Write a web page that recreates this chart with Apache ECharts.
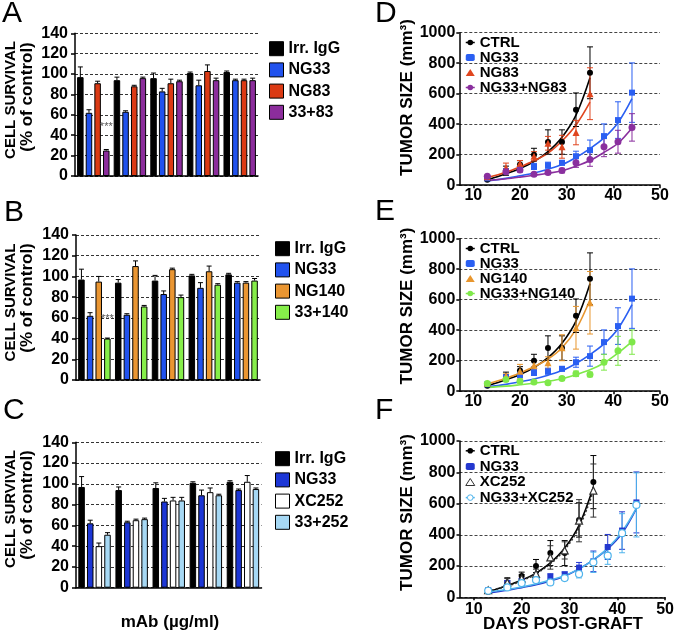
<!DOCTYPE html>
<html><head><meta charset="utf-8">
<script src="https://cdn.jsdelivr.net/npm/echarts@6/dist/echarts.min.js"></script>
<style>html,body{margin:0;padding:0;background:#fff}#c{width:677px;height:638px}</style>
</head><body><div id="c"></div>
<script>
// ---------- Panels A-C : cell survival (% of control) ----------
const doseGroups = ['dose 1', 'dose 2', 'dose 3', 'dose 4', 'dose 5'];
const survivalMin = 0, survivalMax = 140, survivalStep = 20;

const barIgG = [97, 94, 96, 101, 102];
const barIgGErr = [10, 3, 5, 1, 1];
const barNG33 = [62, 63, 83, 89, 94];
const barNG33Err = [3, 1, 3, 5, 1];
const barNG83 = [91, 88, 91, 103, 94];
const barNG83Err = [2, 1, 4, 6, 1];
const bar33plus83 = [25, 96, 93, 94, 94];
const bar33plus83Err = [1, 1, 1, 2, 2];
const barNG140 = [95, 110, 107, 105, 94];
const barNG140Err = [5, 5, 1, 5, 1];
const bar33plus140 = [40, 71, 80, 92, 96];
const bar33plus140Err = [0.5, 1, 2, 1, 2];
const barXC252 = [40, 65, 84, 92, 102];
const barXC252Err = [3, 1, 3, 4, 6];
const bar33plus252 = [51, 66, 84, 89, 95];
const bar33plus252Err = [2, 1, 3, 1, 1];
const starA = 48, starB = 59;

// ---------- Panels D-F : tumor size (mm3) ----------
const days = [13, 17, 20, 23, 26, 29, 32, 35, 38, 41, 44];
const dayTicks = [10, 20, 30, 40, 50];
const tumorMin = 0, tumorMax = 1000, tumorStep = 200;

const ctrl = [35, 95, 136, 200, 283, 283, 495, 737];
const ctrlErr = [5, 30, 25, 42, 80, 80, 110, 170];
const ng33 = [45, 92, 105, 123, 131, 147, 190, 230, 322, 427, 607];
const ng33Err = [8, 15, 15, 20, 20, 15, 33, 66, 80, 120, 195];
const ng83 = [55, 115, 142, 190, 275, 252, 345, 600];
const ng83Err = [8, 30, 20, 30, 45, 75, 80, 170];
const ng33ng83 = [59, 88, 99, 72, 83, 96, 147, 169, 252, 285, 379];
const ng33ng83Err = [5, 12, 12, 8, 10, 15, 30, 45, 65, 75, 90];
const ng140 = [52, 99, 131, 170, 186, 285, 416, 580];
const ng140Err = [5, 15, 45, 25, 40, 85, 140, 205];
const ng33ng140 = [50, 77, 66, 61, 55, 83, 114, 110, 190, 265, 322];
const ng33ng140Err = [5, 10, 10, 8, 8, 12, 18, 15, 52, 95, 80];
const xc252 = [45, 95, 120, 150, 255, 300, 490, 683];
const xc252Err = [5, 25, 25, 30, 75, 55, 135, 170];
const ng33xc252 = [42, 63, 91, 110, 95, 123, 149, 224, 266, 410, 591];
const ng33xc252Err = [5, 8, 10, 12, 10, 12, 25, 65, 55, 125, 205];

// fitted growth curves at the same days
const ctrlFit = [35, 75, 110, 155, 220, 315, 460, 705];
const ng33Fit = [28, 45, 62, 80, 105, 135, 182, 240, 310, 410, 568];
const ng83Fit = [50, 85, 120, 160, 210, 290, 395, 545];
const ng33ng83Fit = [30, 42, 53, 65, 78, 95, 125, 162, 215, 275, 375];
const ng140Fit = [48, 85, 120, 160, 210, 285, 405, 600];
const ng33ng140Fit = [25, 33, 42, 52, 65, 82, 108, 140, 185, 250, 325];
const xc252Fit = [40, 72, 105, 150, 215, 305, 445, 680];
const ng33xc252Fit = [35, 50, 66, 85, 110, 140, 182, 240, 315, 420, 570];

// ---------- build ----------
const FONT = '"Liberation Sans", Arial, Helvetica, sans-serif';
const BAR_W = 6.5, BAR_GAP = 0.33, BAR_STEP = BAR_W * (1 + BAR_GAP);
const grids = [], xAxes = [], yAxes = [], series = [], legends = [], graphics = [];
const pair = (xs, ys) => ys.map((v, i) => [xs[i], v]);
const triple = (xs, ys, es) => ys.map((v, i) => [xs[i], v, es[i]]);
const plain = v => String(v);

function barPanel(box, defs, legendBox, star) {
  const gi = grids.length;
  grids.push({left: box.left, top: box.top, width: box.width, height: box.height, containLabel: false});
  xAxes.push({type: 'category', gridIndex: gi, data: doseGroups,
    axisLine: {lineStyle: {color: '#000', width: 1.5}},
    axisTick: {alignWithLabel: true, length: 4, lineStyle: {color: '#000', width: 1.5}},
    axisLabel: {show: false}, splitLine: {show: false}});
  yAxes.push({type: 'value', gridIndex: gi, min: survivalMin, max: survivalMax, interval: survivalStep,
    axisLine: {show: true, lineStyle: {color: '#000', width: 1.5}},
    axisTick: {show: true, length: 4, lineStyle: {color: '#000', width: 1.5}},
    axisLabel: {formatter: plain, fontFamily: FONT, fontSize: 16, fontWeight: 'bold', color: '#000', margin: 7},
    splitLine: {show: true, lineStyle: {color: '#333', width: 1, type: [3, 2]}}});
  defs.forEach((d, k) => {
    series.push({type: 'bar', name: d.name, xAxisIndex: gi, yAxisIndex: gi, data: d.vals,
      barWidth: BAR_W, barGap: Math.round(BAR_GAP * 100) + '%',
      itemStyle: {color: d.color, borderColor: '#000', borderWidth: 1}, z: 2});
    series.push({type: 'custom', xAxisIndex: gi, yAxisIndex: gi, z: 3,
      data: d.vals.map((v, i) => [i, v, d.err[i]]),
      renderItem: (params, api) => {
        const i = api.value(0), v = api.value(1), e = api.value(2);
        const b = api.coord([i, v]), t = api.coord([i, v + e]);
        const x = b[0] + (k - 1.5) * BAR_STEP;
        const st = {stroke: '#000', lineWidth: 1};
        return {type: 'group', children: [
          {type: 'line', shape: {x1: x, y1: b[1], x2: x, y2: t[1]}, style: st},
          {type: 'line', shape: {x1: x - 2.5, y1: t[1], x2: x + 2.5, y2: t[1]}, style: st}]};
      }});
  });
  if (star != null) {
    series.push({type: 'custom', xAxisIndex: gi, yAxisIndex: gi, z: 4, data: [[0, star]],
      renderItem: (params, api) => {
        const p = api.coord([api.value(0), api.value(1)]);
        return {type: 'text', x: p[0] + 1.5 * BAR_STEP, y: p[1],
          style: {text: '***', font: '11px ' + FONT, fill: '#555', align: 'center', verticalAlign: 'middle',
                  textAlign: 'center', textVerticalAlign: 'middle'}};
      }});
  }
  legends.push({orient: 'vertical', left: legendBox.left, top: legendBox.top, padding: 0,
    itemWidth: 14, itemHeight: 14, itemGap: 5.2, icon: 'rect', selectedMode: false,
    data: defs.map(d => ({name: d.name, itemStyle: {color: d.color, borderColor: '#000', borderWidth: 1}})),
    textStyle: {fontFamily: FONT, fontSize: 16, fontWeight: 'bold', color: '#000', lineHeight: 14}});
}

function linePanel(box, defs, legendBox) {
  const gi = grids.length;
  grids.push({left: box.left, top: box.top, width: box.width, height: box.height, containLabel: false});
  xAxes.push({type: 'value', gridIndex: gi, min: 7, max: 50,
    axisLine: {lineStyle: {color: '#000', width: 1.5}},
    axisTick: {show: true, length: 3, customValues: dayTicks, lineStyle: {color: '#000', width: 1.5}},
    axisLabel: {customValues: dayTicks, formatter: plain, fontFamily: FONT, fontSize: 16, fontWeight: 'bold', color: '#000', margin: box.lm},
    splitLine: {show: false}});
  yAxes.push({type: 'value', gridIndex: gi, min: tumorMin, max: tumorMax, interval: tumorStep,
    axisLine: {show: true, lineStyle: {color: '#000', width: 1.5}},
    axisTick: {show: true, length: 3, lineStyle: {color: '#000', width: 1.5}},
    axisLabel: {formatter: plain, fontFamily: FONT, fontSize: 16, fontWeight: 'bold', color: '#000', margin: 4},
    splitLine: {show: true, lineStyle: {color: '#444', width: 1, type: [3, 2]}}});
  defs.forEach(d => {
    series.push({type: 'line', xAxisIndex: gi, yAxisIndex: gi, data: pair(days, d.fit),
      smooth: 0.35, showSymbol: false, symbol: 'none', z: 3,
      lineStyle: {color: d.color, width: 1.6, type: d.dotted ? [2, 2] : 'solid'}});
    series.push({type: 'custom', xAxisIndex: gi, yAxisIndex: gi, z: 4,
      data: triple(days, d.vals, d.err),
      renderItem: (params, api) => {
        const x = api.value(0), v = api.value(1), e = api.value(2);
        const t = api.coord([x, v + e]), b = api.coord([x, Math.max(v - e, 0)]);
        const st = {stroke: d.color, lineWidth: 1};
        return {type: 'group', children: [
          {type: 'line', shape: {x1: t[0], y1: t[1], x2: b[0], y2: b[1]}, style: st},
          {type: 'line', shape: {x1: t[0] - 3, y1: t[1], x2: t[0] + 3, y2: t[1]}, style: st},
          {type: 'line', shape: {x1: b[0] - 3, y1: b[1], x2: b[0] + 3, y2: b[1]}, style: st}]};
      }});
    series.push({type: 'line', name: d.name, xAxisIndex: gi, yAxisIndex: gi, data: pair(days, d.vals),
      symbol: d.symbol, symbolSize: d.size, showSymbol: true, z: 5,
      lineStyle: {width: 0, color: d.color},
      itemStyle: d.open ? {color: '#fff', borderColor: d.color, borderWidth: 1.2} : {color: d.color, borderColor: d.color, borderWidth: 0}});
  });
  legends.push({orient: 'vertical', left: legendBox.left, top: legendBox.top, padding: 0,
    itemWidth: 9, itemHeight: 7, itemGap: legendBox.gap, selectedMode: false,
    lineStyle: {width: 1.5},
    data: defs.map(d => {
      const item = {name: d.name,
        itemStyle: d.open ? {color: '#fff', borderColor: d.color, borderWidth: 1} : {color: d.color, borderWidth: 0},
        lineStyle: {color: d.color, width: 1.5}};
      if (d.symbol === 'triangle') item.icon = 'triangle';
      return item;
    }),
    textStyle: {fontFamily: FONT, fontSize: 15, fontWeight: 'bold', color: '#000', lineHeight: 14}});
}

const C_IGG = '#000000', C_NG33 = '#2152ee', C_NG33C = '#1c36d6', C_NG83 = '#db3a14', C_P = '#8c2d9c',
      C_NG140 = '#ea9632', C_G = '#86ee4a', C_XC = '#ffffff', C_LB = '#a6d8f4';

barPanel({left: 75, top: 33.3, width: 183, height: 142.7}, [
  {name: 'Irr. IgG', color: C_IGG, vals: barIgG, err: barIgGErr},
  {name: 'NG33', color: C_NG33, vals: barNG33, err: barNG33Err},
  {name: 'NG83', color: C_NG83, vals: barNG83, err: barNG83Err},
  {name: '33+83', color: C_P, vals: bar33plus83, err: bar33plus83Err}], {left: 269, top: 40.7}, starA);
barPanel({left: 76, top: 235, width: 184, height: 145}, [
  {name: 'Irr. IgG', color: C_IGG, vals: barIgG, err: barIgGErr},
  {name: 'NG33', color: C_NG33, vals: barNG33, err: barNG33Err},
  {name: 'NG140', color: C_NG140, vals: barNG140, err: barNG140Err},
  {name: '33+140', color: C_G, vals: bar33plus140, err: bar33plus140Err}], {left: 275, top: 240.7}, starB);
barPanel({left: 76, top: 442.3, width: 185.5, height: 145.4}, [
  {name: 'Irr. IgG', color: C_IGG, vals: barIgG, err: barIgGErr},
  {name: 'NG33', color: C_NG33C, vals: barNG33, err: barNG33Err},
  {name: 'XC252', color: C_XC, vals: barXC252, err: barXC252Err},
  {name: '33+252', color: C_LB, vals: bar33plus252, err: bar33plus252Err}], {left: 275, top: 450.7}, null);

const L_BLUE = '#2a5ff2', L_RED = '#e0451e', L_PUR = '#8a2f9e', L_OR = '#e8962e', L_GR = '#7fe84a',
      L_DB = '#2438cf', L_LB = '#4fb4ec';
linePanel({left: 459.3, top: 32.7, width: 200.7, height: 152.5, lm: 2}, [
  {name: 'CTRL', color: '#000', symbol: 'circle', size: 6, vals: ctrl, err: ctrlErr, fit: ctrlFit},
  {name: 'NG33', color: L_BLUE, symbol: 'rect', size: 6, vals: ng33, err: ng33Err, fit: ng33Fit},
  {name: 'NG83', color: L_RED, symbol: 'triangle', size: 7, vals: ng83, err: ng83Err, fit: ng83Fit},
  {name: 'NG33+NG83', color: L_PUR, symbol: 'circle', size: 7, vals: ng33ng83, err: ng33ng83Err, fit: ng33ng83Fit}],
  {left: 465, top: 35, gap: 0});
linePanel({left: 459.3, top: 238.7, width: 200.7, height: 152.5, lm: 2}, [
  {name: 'CTRL', color: '#000', symbol: 'circle', size: 6, vals: ctrl, err: ctrlErr, fit: ctrlFit},
  {name: 'NG33', color: L_BLUE, symbol: 'rect', size: 6, vals: ng33, err: ng33Err, fit: ng33Fit},
  {name: 'NG140', color: L_OR, symbol: 'triangle', size: 7, vals: ng140, err: ng140Err, fit: ng140Fit},
  {name: 'NG33+NG140', color: L_GR, symbol: 'circle', size: 7, vals: ng33ng140, err: ng33ng140Err, fit: ng33ng140Fit}],
  {left: 465, top: 241, gap: 0});
linePanel({left: 459.5, top: 441, width: 205.9, height: 156.3, lm: 4}, [
  {name: 'CTRL', color: '#000', symbol: 'circle', size: 6, vals: ctrl, err: ctrlErr, fit: ctrlFit},
  {name: 'NG33', color: L_DB, symbol: 'rect', size: 6, vals: ng33, err: ng33Err, fit: ng33Fit},
  {name: 'XC252', color: '#333', symbol: 'triangle', size: 7, open: true, dotted: true, vals: xc252, err: xc252Err, fit: xc252Fit},
  {name: 'NG33+XC252', color: L_LB, symbol: 'circle', size: 7, open: true, vals: ng33xc252, err: ng33xc252Err, fit: ng33xc252Fit}],
  {left: 465, top: 443.3, gap: 0.6});

function txt(x, y, s, font, rot, align) {
  return {type: 'text', x: x, y: y, rotation: rot || 0, silent: true,
    style: {text: s, font: font, fill: '#000', align: align || 'center', verticalAlign: 'middle',
            textAlign: align || 'center', textVerticalAlign: 'middle'}};
}
const R = Math.PI / 2;
const LET = '30px ' + FONT;
graphics.push(txt(2, 14, 'A', LET, 0, 'left'), txt(4, 212.5, 'B', LET, 0, 'left'), txt(3, 411, 'C', LET, 0, 'left'),
  txt(375, 13.5, 'D', LET, 0, 'left'), txt(375, 212, 'E', LET, 0, 'left'), txt(375, 411, 'F', LET, 0, 'left'));
[[100, 97], [302.5, 298], [509, 505]].forEach(c => {
  graphics.push(txt(11, c[0], 'CELL SURVIVAL', 'bold 15px ' + FONT, R));
  graphics.push(txt(27, c[1], '(% of control)', 'bold 17px ' + FONT, R));
});
[97.5, 306, 512.5].forEach(y => graphics.push(txt(407.5, y, 'TUMOR SIZE (mm³)', 'bold 17px ' + FONT, R)));
graphics.push(txt(170, 622, 'mAb (µg/ml)', 'bold 17px ' + FONT));
graphics.push(txt(563, 624, 'DAYS POST-GRAFT', 'bold 17px ' + FONT));

const chart = echarts.init(document.getElementById('c'));
chart.setOption({
  animation: false, backgroundColor: '#fff',
  grid: grids, xAxis: xAxes, yAxis: yAxes, legend: legends, series: series,
  graphic: {elements: graphics}
});
</script></body></html>
